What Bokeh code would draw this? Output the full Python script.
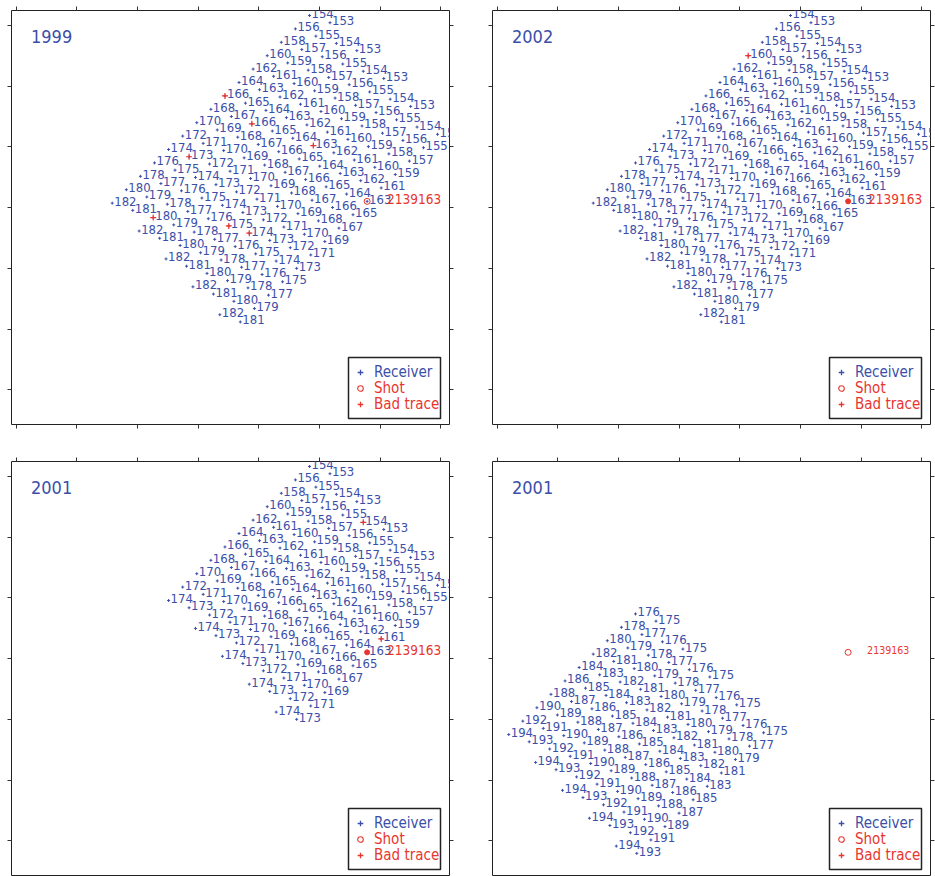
from bokeh.plotting import figure
from bokeh.models import (Range1d, LinearAxis, FixedTicker, Legend, LegendItem,
                          BoxAnnotation, Label, ColumnDataSource, CustomJSTickFormatter)
from bokeh.layouts import column, row
from bokeh.embed import file_html
from bokeh.resources import INLINE
from bokeh.core.properties import value

# ---------------------------------------------------------------- data
titles = ["1999", "2002", "2001", "2001"]

# receiver line numbers shown in each panel and first station index of each line
lines_1999 = [153, 154, 155, 156, 157, 158, 159, 160, 161, 162, 163, 164, 165, 166, 167,
              168, 169, 170, 171, 172, 173, 174, 175, 176, 177, 178, 179, 180, 181, 182]
first_1999 = [0, 0, 1, 1, 2, 2, 3, 3, 4, 4, 5, 5, 6, 6, 7,
              7, 8, 8, 9, 9, 10, 10, 11, 11, 12, 12, 13, 13, 14, 14]
lines_2002 = [153, 154, 155, 156, 157, 158, 159, 160, 161, 162, 163, 164, 165, 166, 167,
              168, 169, 170, 171, 172, 173, 174, 175, 176, 177, 178, 179, 180, 181, 182]
first_2002 = [0, 0, 1, 1, 2, 2, 3, 3, 4, 4, 5, 5, 6, 6, 7,
              7, 8, 8, 9, 9, 10, 10, 11, 11, 12, 12, 13, 13, 14, 14]
lines_2001a = [153, 154, 155, 156, 157, 158, 159, 160, 161, 162, 163,
               164, 165, 166, 167, 168, 169, 170, 171, 172, 173, 174]
first_2001a = [0, 0, 1, 1, 2, 2, 3, 3, 4, 4, 5,
               5, 6, 6, 7, 7, 8, 8, 9, 9, 10, 10]
lines_2001b = [175, 176, 177, 178, 179, 180, 181, 182, 183, 184,
               185, 186, 187, 188, 189, 190, 191, 192, 193, 194]
first_2001b = [11, 11, 12, 12, 13, 13, 14, 14, 15, 15,
               16, 16, 17, 17, 18, 18, 19, 19, 20, 20]
stations_per_line = 5

# bad traces (receiver line, station index)
bad_1999_line = [166, 166, 163, 173, 180, 175, 174]
bad_1999_station = [6, 7, 7, 10, 14, 13, 13]
bad_2002_line = [160]
bad_2002_station = [3]
bad_2001a_line = [154, 161]
bad_2001a_station = [2, 8]
bad_2001b_line = []
bad_2001b_station = []

shot_line = 163
shot_station = 9
shot_label = "2139163"

x_ticks = [0, 100, 200, 300, 400, 500, 600, 700]
y_ticks = [0, 100, 200, 300, 400, 500, 600]
legend_labels = ["Receiver", "Shot", "Bad trace"]

# ---------------------------------------------------------------- survey geometry (m)
GRID_ORIGIN = (483.5, 616.5)      # receiver line 154, station 0
STATION_STEP = (44.31, -45.96)    # one station along a receiver line
LINE_STEP = (-33.76, 11.94)       # from one receiver line to the next


def locate(line, station):
    x = GRID_ORIGIN[0] + station * STATION_STEP[0] + (line - 154) * LINE_STEP[0]
    y = GRID_ORIGIN[1] + station * STATION_STEP[1] + (line - 154) * LINE_STEP[1]
    return x, y


# ---------------------------------------------------------------- style
BLUE = "#3b4fa8"
RED = "#e8362e"
FONT = "DejaVu Sans Condensed, Liberation Sans, sans-serif"
PX = 100 / 60.7                     # metres per screen pixel
X0 = -4.5 * PX
X1 = X0 + 438 * PX
Y1 = 600 + 15 * PX
Y0 = Y1 - 414 * PX


def make_panel(title, lines, firsts, bad_l, bad_s, shot_kind, shot_font, shot_dx,
               borders, with_bottom):
    l, r, t, b = borders
    p = figure(frame_width=438, frame_height=414,
               x_range=Range1d(X0, X1), y_range=Range1d(Y0, Y1),
               output_backend="svg", toolbar_location=None,
               x_axis_location=None, y_axis_location=None,
               min_border_left=l, min_border_right=r,
               min_border_top=t, min_border_bottom=b)
    p.grid.visible = False
    p.outline_line_color = "#222222"
    p.outline_line_width = 1
    sides = ["left", "right", "above"] + (["below"] if with_bottom else [])
    for side in sides:
        ticks = x_ticks if side in ("above", "below") else y_ticks
        ax = LinearAxis(ticker=FixedTicker(ticks=ticks),
                        formatter=CustomJSTickFormatter(code="return ''"),
                        major_label_text_font_size="0px", major_label_standoff=0,
                        major_tick_out=4, major_tick_in=0,
                        minor_tick_out=0, minor_tick_in=0,
                        axis_line_color=None, major_tick_line_color="#333333")
        p.add_layout(ax, side)

    xs, ys, labels = [], [], []
    for ln, f in zip(lines, firsts):
        for st in range(f, f + stations_per_line):
            x, y = locate(ln, st)
            xs.append(x)
            ys.append(y)
            labels.append(str(ln))
    src = ColumnDataSource(dict(x=xs, y=ys, label=labels))
    p.scatter("x", "y", source=src, marker="cross", size=3, line_color=BLUE, line_width=1)
    p.text("x", "y", text="label", source=src, text_font=value(FONT),
           text_font_size="13px", text_color=BLUE, text_baseline="middle",
           text_align="left", x_offset=2, y_offset=-2)

    # bad traces
    bx, by = [], []
    for ln, st in zip(bad_l, bad_s):
        x, y = locate(ln, st)
        bx.append(x)
        by.append(y)
    p.scatter(bx, by, marker="cross", size=6, line_color=RED, line_width=1.2)

    # shot
    sx, sy = locate(shot_line, shot_station)
    if shot_kind == "hollow":
        p.scatter([sx], [sy], marker="circle", size=6, line_color=RED,
                  fill_color=None, line_width=1)
    else:
        p.scatter([sx], [sy], marker="circle", size=5, line_color=RED, fill_color=RED)
    p.text([sx], [sy], text=[shot_label], text_font=value(FONT),
           text_font_size=shot_font, text_color=RED, text_baseline="middle",
           text_align="left", x_offset=shot_dx, y_offset=-2)

    # title
    p.add_layout(Label(x=X0 + 19.5 * PX, y=Y1 - 26 * PX, text=title,
                       text_font=FONT, text_font_size="18px", text_color=BLUE,
                       text_baseline="middle"))

    # legend: invisible proxies of the plotted receivers give the legend glyphs
    r_rec = p.scatter("x", "y", source=src, marker="cross", size=6, line_color=BLUE,
                      line_width=1.3, visible=False)
    r_shot = p.scatter("x", "y", source=src, marker="circle", size=6, line_color=RED,
                       fill_color=None, line_width=1.1, visible=False)
    r_bad = p.scatter("x", "y", source=src, marker="cross", size=6, line_color=RED,
                      line_width=1.3, visible=False)
    for rend, lab, col, yb in zip([r_rec, r_shot, r_bad], legend_labels,
                                   [BLUE, RED, RED], [43, 27, 11]):
        lg = Legend(items=[LegendItem(label=lab, renderers=[rend])],
                    location=(342, yb), label_text_color=col,
                    label_text_font=FONT, label_text_font_size="15px",
                    glyph_width=14, glyph_height=16, label_height=16,
                    label_standoff=7, padding=0, spacing=0, margin=0,
                    border_line_alpha=0, background_fill_alpha=0,
                    inactive_fill_alpha=0)
        p.add_layout(lg)
    p.add_layout(BoxAnnotation(left=X0 + 337 * PX, right=X0 + 429 * PX,
                               top=Y1 - 347 * PX, bottom=Y1 - 408 * PX,
                               fill_alpha=0, line_color="#222222", line_alpha=1,
                               line_width=1.5))
    return p


p1 = make_panel(titles[0], lines_1999, first_1999, bad_1999_line, bad_1999_station,
                "hollow", "13.5px", 20, (11, 21, 10, 18), True)
p2 = make_panel(titles[1], lines_2002, first_2002, bad_2002_line, bad_2002_station,
                "filled", "13.5px", 20, (22, 5, 10, 18), True)
p3 = make_panel(titles[2], lines_2001a, first_2001a, bad_2001a_line, bad_2001a_station,
                "filled", "13.5px", 20, (11, 21, 19, 1), False)
p4 = make_panel(titles[3], lines_2001b, first_2001b, bad_2001b_line, bad_2001b_station,
                "hollow", "10.5px", 19, (22, 5, 19, 1), False)

layout = column(row(p1, p2), row(p3, p4))
open("out.html", "w").write(file_html(layout, INLINE))
